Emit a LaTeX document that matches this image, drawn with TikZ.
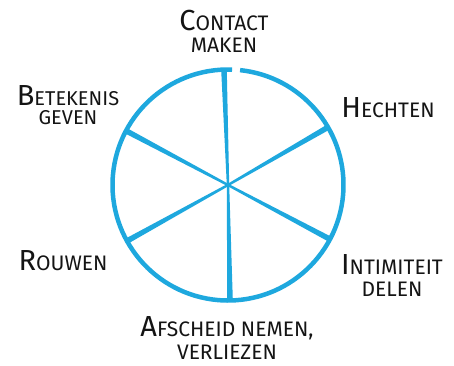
\documentclass[tikz,border=0pt]{standalone}
\usepackage{fontspec}
\setmainfont{Fira Sans}
\usetikzlibrary{calc}
\definecolor{wheel}{RGB}{30,168,222}
\definecolor{ink}{RGB}{20,20,20}
\newcommand\bl[1]{{\fontsize{29}{29}\selectfont #1}}
\tikzset{
  lbl/.style={text=ink, align=center, font=\fontsize{21}{22}\selectfont, inner sep=0pt},
  rim/.style={draw=wheel, line width=4.5pt},
}
\begin{document}
\begin{tikzpicture}[x=1pt,y=1pt]
\useasboundingbox (0,0) rectangle (454,365);
\coordinate (C) at (228,180);
\foreach \n/\a in {t/92,b/271,ul/152,lr/332,ur/30,ll/209}{
  \coordinate (\n) at ($(C)+(\a:115)$);
  \fill[wheel] ($(C)!1.2pt!90:(\n)$) -- ($(\n)!2.8pt!-90:(C)$) -- ($(\n)!2.8pt!90:(C)$) -- ($(C)!1.2pt!-90:(\n)$) -- cycle;
}
\draw[rim] (C) ++(88:115.5) arc[start angle=88, end angle=444, radius=115.5];
\node[lbl] (contact) at (224,334) {\bl{C}ONTACT\\MAKEN};
\node[lbl, font=\fontsize{20}{19}\selectfont] (betekenis) at (68,260) {\bl{B}ETEKENIS\\GEVEN};
\node[lbl] (hechten) at (388,257) {\bl{H}ECHTEN};
\node[lbl] (intimiteit) at (392,89) {\bl{I}NTIMITEIT\\DELEN};
\node[lbl] (rouwen) at (63,104) {\bl{R}OUWEN};
\node[lbl, font=\fontsize{21}{23}\selectfont] (afscheid) at (227,27) {\bl{A}FSCHEID NEMEN,\\VERLIEZEN};
\end{tikzpicture}
\end{document}
